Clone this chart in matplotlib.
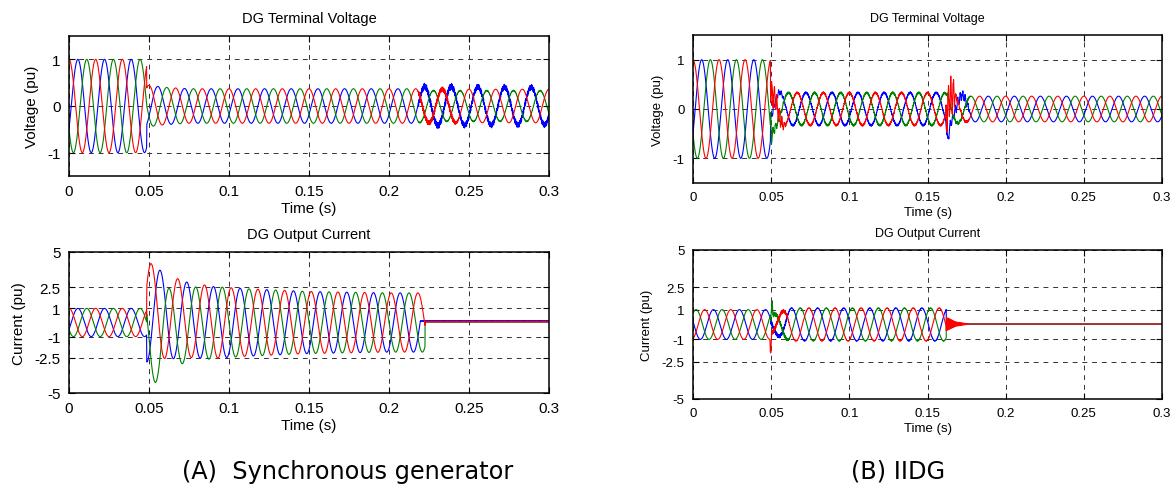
import numpy as np
import matplotlib
matplotlib.use("Agg")
import matplotlib.pyplot as plt

# ---------------- values ----------------
FREQ_HZ = 60.0
PHASE_NAMES = ["blue", "green", "red"]            # plotting order (red drawn last)
PHASE_COLORS = {"blue": "#0000ff", "green": "#008000", "red": "#ff0000"}
PHASE_ANGLE_DEG = {"red": 0.0, "blue": -120.0, "green": 120.0}

X_TICKS = [0, 0.05, 0.1, 0.15, 0.2, 0.25, 0.3]
X_TICK_LABELS = ["0", "0.05", "0.1", "0.15", "0.2", "0.25", "0.3"]
V_TICKS = [-1, 0, 1]
V_TICK_LABELS = ["-1", "0", "1"]
I_TICKS = [-5, -2.5, -1, 1, 2.5, 5]
I_TICK_LABELS = ["-5", "-2.5", "-1", "1", "2.5", "5"]

TITLES = ["DG Terminal Voltage", "DG Output Current"]
XLABEL = "Time (s)"
YLABELS = ["Voltage (pu)", "Current (pu)"]
CAPTIONS = ["(A)  Synchronous generator", "(B) IIDG"]

# (A) synchronous generator - terminal voltage envelope (pu)
SGV_T = [0, 0.0485, 0.0486, 0.06, 0.075, 0.218, 0.222, 0.3]
SGV_AMP = {"red":   [1, 1, 0.45, 0.40, 0.37, 0.37, 0.36, 0.36],
           "blue":  [1, 1, 0.45, 0.40, 0.37, 0.37, 0.42, 0.40],
           "green": [1, 1, 0.45, 0.40, 0.37, 0.37, 0.33, 0.33]}
SGV_RIP_T = [0, 0.218, 0.2185, 0.24, 0.245, 0.3]
SGV_RIP = {"red":   [0, 0, 0.05, 0.05, 0.0, 0.0],
           "blue":  [0, 0, 0.07, 0.07, 0.06, 0.06],
           "green": [0, 0, 0.01, 0.01, 0.01, 0.01]}

# (A) synchronous generator - output current envelope (pu)
SGI_FAULT = 0.0485
SGI_LAG_S = 0.0014
SGI_T = [0, 0.0485, 0.0486, 0.07, 0.09, 0.11, 0.15, 0.2, 0.222]
SGI_AMP = [1, 1, 3.5, 2.72, 2.55, 2.4, 2.2, 2.1, 2.1]
SGI_DC_T = [0, 0.0485, 0.0486, 0.07, 0.09, 0.3]
SGI_DC = {"red":   [0, 0, 0.85, 0.26, 0, 0],
          "blue":  [0, 0, 0.70, 0.22, 0, 0],
          "green": [0, 0, -1.20, -0.22, 0, 0]}
SGI_CUT = {"red": 0.2225, "blue": 0.2195, "green": 0.2225}
SGI_RESIDUAL = {"red": 0.06, "blue": 0.10, "green": 0.05}

# (B) IIDG - terminal voltage envelope (pu)
IIV_T = [0, 0.0495, 0.0496, 0.06, 0.16, 0.175, 0.3]
IIV_AMP = [1, 1, 0.34, 0.33, 0.33, 0.26, 0.26]
IIV_RIP_T = [0, 0.0495, 0.0496, 0.16, 0.176, 0.178, 0.3]
IIV_RIP = {"red":   [0, 0, 0.02, 0.02, 0.02, 0, 0],
           "blue":  [0, 0, 0.02, 0.02, 0.02, 0, 0],
           "green": [0, 0, 0.02, 0.02, 0.02, 0, 0]}
IIV_BURST_T = [0, 0.0495, 0.0496, 0.056, 0.06, 0.1615, 0.162, 0.1668, 0.168, 0.176, 0.177, 0.3]
IIV_BURST = {"red":   [0, 0, 0.28, 0.18, 0, 0, 0.45, 0.40, 0.05, 0.0, 0, 0],
             "blue":  [0, 0, 0.08, 0.05, 0, 0, 0.08, 0.08, 0.12, 0.08, 0, 0],
             "green": [0, 0, 0.10, 0.05, 0, 0, 0.04, 0.04, 0.03, 0.0, 0, 0]}
IIV_PULSE = {"green": ([0.0496, 0.0502, 0.0510, 0.0530], [0, -0.45, -0.20, 0]),
             "blue":  ([0.1615, 0.1630, 0.1645], [0, -0.35, 0])}

# (B) IIDG - output current (pu)
IIC_LAG_S = 0.0075
IIC_T = [0, 0.0495, 0.0496, 0.058, 0.062, 0.162]
IIC_AMP = [1, 1, 0.6, 0.9, 1.1, 1.1]
IIC_CUT = 0.162
IIC_RIP_T = [0, 0.0495, 0.0496, 0.06, 0.062, 0.3]
IIC_RIP = [0, 0, 0.15, 0.1, 0.02, 0.02]
IIC_PULSE = {"red":   ([0.0492, 0.0497, 0.0503], [0, -1.4, 0]),
             "green": ([0.0498, 0.0505, 0.0512], [0, 1.1, 0])}
IIC_RING_T = [0.162, 0.168, 0.177]
IIC_RING = {"red": [0.45, 0.15, 0.0], "blue": [0.2, 0.07, 0.0], "green": [0.2, 0.07, 0.0]}
IIC_RESIDUAL = 0.03

# ---------------- waveform assembly ----------------
t = np.arange(0.0, 0.3 + 1e-9, 1e-5)
W = 2 * np.pi * FREQ_HZ
RIP_OFFS = {"red": 0.0, "blue": 1.7, "green": 3.1}


def carrier(name, lag):
    return np.cos(W * (t - lag) + np.deg2rad(PHASE_ANGLE_DEG[name]))


def ripple(name, amp):
    o = RIP_OFFS[name]
    return amp * (0.6 * np.sin(2 * np.pi * 2300 * t + o) + 0.4 * np.sin(2 * np.pi * 3900 * t + 2 * o + 1.0))


def burst(name, amp):
    o = RIP_OFFS[name]
    return amp * (0.8 * np.sin(2 * np.pi * 620 * t + o) + 0.2 * np.sin(2 * np.pi * 1500 * t + o))


def ring(name, amp):
    o = RIP_OFFS[name]
    return amp * np.sin(2 * np.pi * 1400 * t + o)


def pulse(tk, vk):
    return np.interp(t, tk, vk, left=0, right=0)


def sg_voltage(name):
    return np.interp(t, SGV_T, SGV_AMP[name]) * carrier(name, 0.0) + \
        ripple(name, np.interp(t, SGV_RIP_T, SGV_RIP[name]))


def sg_current(name):
    lag = np.where(t < SGI_FAULT, 0.0, SGI_LAG_S)
    y = np.interp(t, SGI_T, SGI_AMP) * carrier(name, lag) + np.interp(t, SGI_DC_T, SGI_DC[name])
    post = t >= SGI_CUT[name]
    return np.where(post, SGI_RESIDUAL[name] + ripple(name, 0.02), y)


def ii_voltage(name):
    y = np.interp(t, IIV_T, IIV_AMP) * carrier(name, 0.0) + \
        ripple(name, np.interp(t, IIV_RIP_T, IIV_RIP[name])) + \
        burst(name, np.interp(t, IIV_BURST_T, IIV_BURST[name]))
    if name in IIV_PULSE:
        y = y + pulse(*IIV_PULSE[name])
    return y


def ii_current(name):
    y = np.interp(t, IIC_T, IIC_AMP) * carrier(name, IIC_LAG_S) + \
        ripple(name, np.interp(t, IIC_RIP_T, IIC_RIP))
    if name in IIC_PULSE:
        y = y + pulse(*IIC_PULSE[name])
    post = t >= IIC_CUT
    ringing = IIC_RESIDUAL + ring(name, np.interp(t, IIC_RING_T, IIC_RING[name], right=0))
    return np.where(post, ringing, y)


# ---------------- figure ----------------
plt.rcParams["font.family"] = ["Liberation Sans", "DejaVu Sans"]
fig = plt.figure(figsize=(11.75, 4.85), dpi=100)

W_PX, H_PX = 1175.0, 485.0


def ax_at(x0, y0, x1, y1):
    return fig.add_axes([x0 / W_PX, 1 - y1 / H_PX, (x1 - x0) / W_PX, (y1 - y0) / H_PX])


panels = [
    (ax_at(69, 37, 549, 177), sg_voltage, 0, 11.0),
    (ax_at(69, 253, 549, 394), sg_current, 1, 11.0),
    (ax_at(693, 36, 1162, 184), ii_voltage, 0, 9.5),
    (ax_at(693, 251, 1162, 400), ii_current, 1, 9.5),
]

for ax, func, kind, fs in panels:
    for name in PHASE_NAMES:
        ax.plot(t, func(name), color=PHASE_COLORS[name], lw=0.8)
    ax.set_xlim(0, 0.3)
    ax.set_xticks(X_TICKS)
    ax.set_xticklabels(X_TICK_LABELS)
    if kind == 0:
        ax.set_ylim(-1.5, 1.5)
        ax.set_yticks(V_TICKS)
        ax.set_yticklabels(V_TICK_LABELS)
    else:
        ax.set_ylim(-5, 5)
        ax.set_yticks(I_TICKS)
        ax.set_yticklabels(I_TICK_LABELS)
    ax.grid(True, color="0.2", linestyle=(0, (5, 5)), linewidth=0.7)
    ax.tick_params(direction="in", length=4, width=0.8, top=True, right=True,
                   labelsize=fs, pad=6, colors="black")
    for sp in ax.spines.values():
        sp.set_linewidth(1.1)
    ax.set_title(TITLES[kind], fontsize=fs - 0.5, pad=10)
    ax.set_xlabel(XLABEL, fontsize=fs, labelpad=2)
    ax.set_ylabel(YLABELS[kind], fontsize=fs, labelpad=6)

cap_kw = dict(family=["DejaVu Sans"], fontsize=17.3, ha="center", va="center")
fig.text(348 / W_PX, 1 - 472 / H_PX, CAPTIONS[0], **cap_kw)
fig.text(898 / W_PX, 1 - 472 / H_PX, CAPTIONS[1], **cap_kw)

fig.savefig("out.png", dpi=100)
